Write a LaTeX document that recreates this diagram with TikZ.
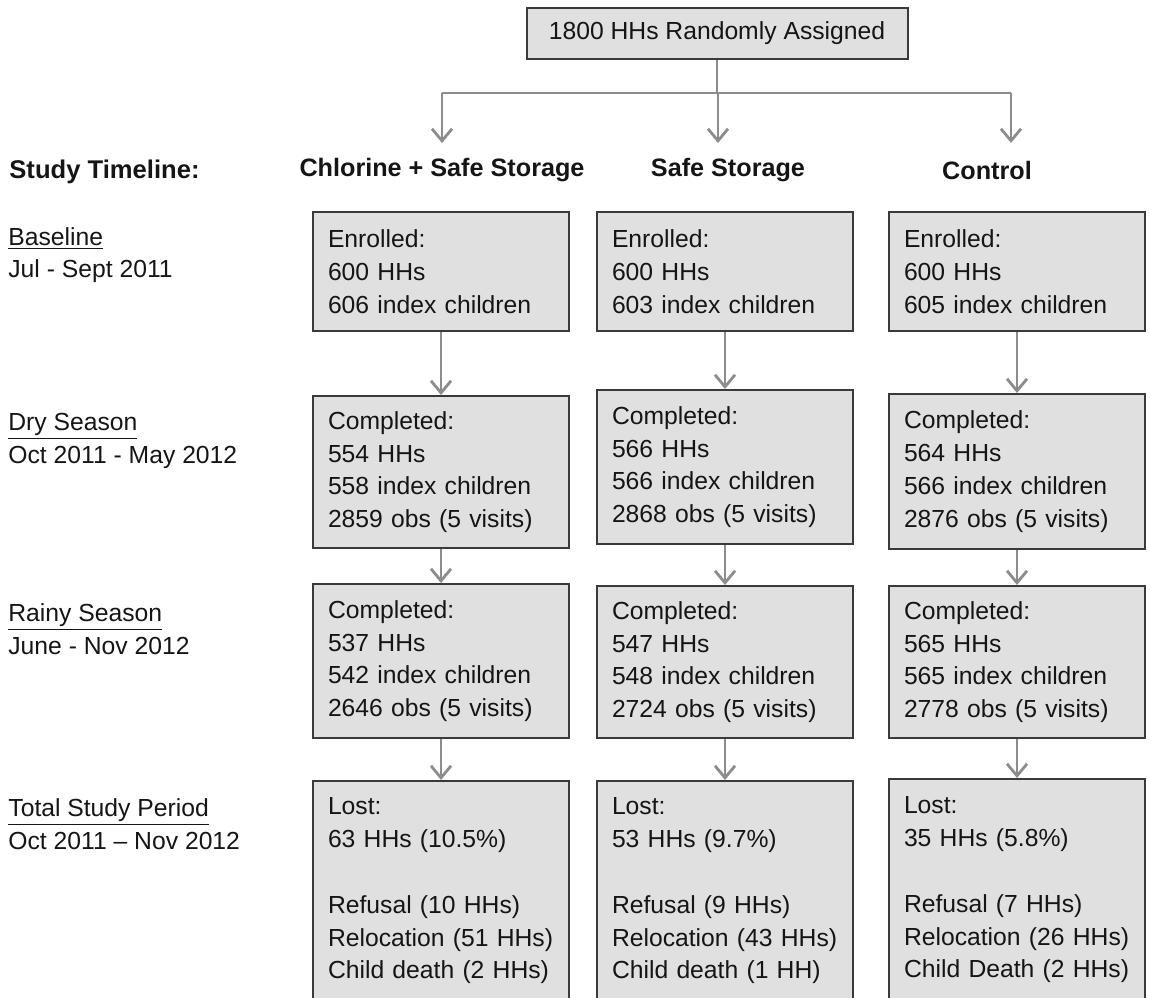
\documentclass[tikz,border=0pt]{standalone}
\usepackage{fontspec}
\setmainfont{Liberation Sans}
\usetikzlibrary{arrows.meta,positioning}
\definecolor{boxfill}{HTML}{E0E0E0}
\definecolor{boxline}{HTML}{3A3A3A}
\definecolor{arrowgray}{HTML}{8C8C8C}
\definecolor{ink}{HTML}{151515}
\tikzset{
  cell/.style={draw=boxline, line width=1pt, fill=boxfill, text=ink, align=left,
    text width=113pt, inner xsep=7.5pt, inner ysep=0pt, anchor=north,
    font=\fontsize{12.35}{16.4}\selectfont},
  topbox/.style={draw=boxline, line width=1pt, fill=boxfill, text=ink,
    minimum width=190.5pt, minimum height=25.5pt, font=\fontsize{12.35}{15}\selectfont},
  head/.style={text=ink, font=\fontsize{12.6}{15}\selectfont\bfseries},
  phase/.style={text=ink, align=left, anchor=west, inner sep=0pt,
    font=\fontsize{12.35}{16.25}\selectfont},
  link/.style={draw=arrowgray, line width=1.4pt},
  arr/.style={link, -{Straight Barb[length=6pt, width=10pt]}},
}
\begin{document}
\begin{tikzpicture}[x=0.5pt, y=-0.5pt]
  %%%%% START %%%%%
  \clip (0,0) rectangle (1150,997);

  \node[topbox] (top) at (717,33) {1800 HHs Randomly Assigned};

  \coordinate (bar) at (0,93);
  \coordinate (tipA) at (442,143);
  \coordinate (tipB) at (718,143);
  \coordinate (tipC) at (1011,143);
  \draw[link] (top.south) -- (top.south |- bar);
  \draw[link] (tipA |- bar) -- (tipC |- bar);
  \draw[arr] (tipA |- bar) -- (tipA);
  \draw[arr] (tipB |- bar) -- (tipB);
  \draw[arr] (tipC |- bar) -- (tipC);

  % group headings
  \node[head] (hchl) at (442,170) {Chlorine + Safe Storage};
  \node[head] (hss) at (728,170) {Safe Storage};
  \node[head] (hctl) at (987,170) {Control};

  % timeline
  \node[phase] (tline) at (9,172) {\bfseries\fontsize{12.8}{15}\selectfont Study Timeline:};
  \node[phase] (tbase) at (8,255) {\underline{Baseline}\\Jul - Sept 2011};
  \node[phase] (tdry) at (8,441) {\underline{Dry Season}\\Oct 2011 - May 2012};
  \node[phase] (train) at (8,629) {\underline{Rainy Season}\\June - Nov 2012};
  \node[phase] (ttot) at (8,824) {\underline{Total Study Period}\\Oct 2011 – Nov 2012};

  % baseline
  \node[cell, minimum height=59.5pt] (c1a) at (441,211) {Enrolled:\\600 HHs\\606 index children};
  \node[cell, minimum height=59.5pt] (c2a) at (725,211) {Enrolled:\\600 HHs\\603 index children};
  \node[cell, minimum height=59.5pt] (c3a) at (1017,211) {Enrolled:\\600 HHs\\605 index children};

  % dry season
  \node[cell, minimum height=76pt] (c1b) at (441,395) {Completed:\\554 HHs\\558 index children\\2859 obs (5 visits)};
  \node[cell, minimum height=77pt] (c2b) at (725,389) {Completed:\\566 HHs\\566 index children\\2868 obs (5 visits)};
  \node[cell, minimum height=77.5pt] (c3b) at (1017,393) {Completed:\\564 HHs\\566 index children\\2876 obs (5 visits)};

  % rainy season
  \node[cell, minimum height=77pt] (c1c) at (441,583) {Completed:\\537 HHs\\542 index children\\2646 obs (5 visits)};
  \node[cell, minimum height=76pt] (c2c) at (725,585) {Completed:\\547 HHs\\548 index children\\2724 obs (5 visits)};
  \node[cell, minimum height=76pt] (c3c) at (1017,585) {Completed:\\565 HHs\\565 index children\\2778 obs (5 visits)};

  % losses
  \node[cell, minimum height=110pt] (c1d) at (441,780) {Lost:\\63~HHs~(10.5\%)\\\mbox{}\\Refusal~(10~HHs)\\Relocation~(51~HHs)\\Child~death~(2~HHs)};
  \node[cell, minimum height=110pt] (c2d) at (725,780) {Lost:\\53~HHs~(9.7\%)\\\mbox{}\\Refusal~(9~HHs)\\Relocation~(43~HHs)\\Child~death~(1~HH)};
  \node[cell, minimum height=111pt] (c3d) at (1017,778) {Lost:\\35~HHs~(5.8\%)\\\mbox{}\\Refusal~(7~HHs)\\Relocation~(26~HHs)\\Child~Death~(2~HHs)};

  \foreach \col in {1,2,3}{
    \draw[arr] (c\col a) -- (c\col b);
    \draw[arr] (c\col b) -- (c\col c);
    \draw[arr] (c\col c) -- (c\col d);
  }
  %%%%% END %%%%%
\end{tikzpicture}
\end{document}
